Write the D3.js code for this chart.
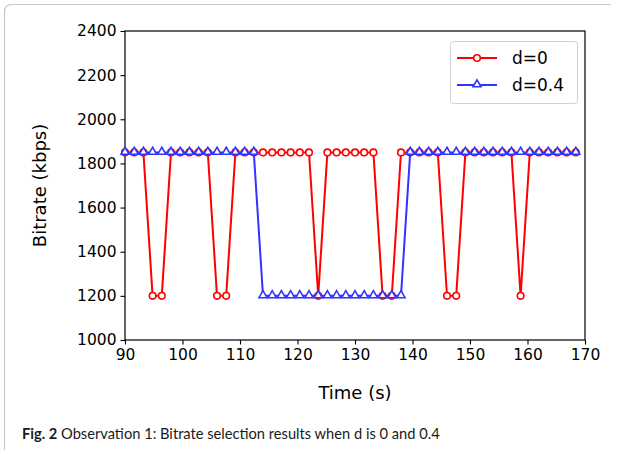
<!DOCTYPE html>
<html>
<head>
<meta charset="utf-8">
<script src="https://cdn.jsdelivr.net/npm/d3@7"></script>
<style>
  html, body { margin: 0; padding: 0; background: #fff; }
  svg { display: block; }
</style>
</head>
<body>
<svg id="chart" width="623" height="450"></svg>
<script>
// Segment start times (s) and selected bitrate (kbps) per segment
const times = [90.0, 91.6, 93.2, 94.8, 96.4, 98.0, 99.6, 101.2, 102.8, 104.4,
               106.0, 107.6, 109.2, 110.8, 112.4, 114.0, 115.6, 117.2, 118.8, 120.4,
               122.0, 123.6, 125.2, 126.8, 128.4, 130.0, 131.6, 133.2, 134.8, 136.4,
               138.0, 139.6, 141.2, 142.8, 144.4, 146.0, 147.6, 149.2, 150.8, 152.4,
               154.0, 155.6, 157.2, 158.8, 160.4, 162.0, 163.6, 165.2, 166.8, 168.4];

const bitrateD0 = [1850, 1850, 1850, 1200, 1200, 1850, 1850, 1850, 1850, 1850,
                   1200, 1200, 1850, 1850, 1850, 1850, 1850, 1850, 1850, 1850,
                   1850, 1200, 1850, 1850, 1850, 1850, 1850, 1850, 1200, 1200,
                   1850, 1850, 1850, 1850, 1850, 1200, 1200, 1850, 1850, 1850,
                   1850, 1850, 1850, 1200, 1850, 1850, 1850, 1850, 1850, 1850];

const bitrateD04 = [1850, 1850, 1850, 1850, 1850, 1850, 1850, 1850, 1850, 1850,
                    1850, 1850, 1850, 1850, 1850, 1200, 1200, 1200, 1200, 1200,
                    1200, 1200, 1200, 1200, 1200, 1200, 1200, 1200, 1200, 1200,
                    1200, 1850, 1850, 1850, 1850, 1850, 1850, 1850, 1850, 1850,
                    1850, 1850, 1850, 1850, 1850, 1850, 1850, 1850, 1850, 1850];

const seriesNames = ["d=0", "d=0.4"];
const xTicks = [90, 100, 110, 120, 130, 140, 150, 160, 170];
const yTicks = [1000, 1200, 1400, 1600, 1800, 2000, 2200, 2400];

const svg = d3.select("#chart");
const fontAxis = "'DejaVu Sans', sans-serif";

// Caption frame (top and left rule, rounded corner)
svg.append("path")
  .attr("d", "M4.5,450 L4.5,12 Q4.5,4.5 12,4.5 L611,4.5")
  .attr("fill", "none")
  .attr("stroke", "#c9c9c9")
  .attr("stroke-width", 1.2);

const plot = { left: 125, right: 585, top: 31, bottom: 340 };

const x = d3.scaleLinear().domain([90, 170]).range([plot.left, plot.right]);
const y = d3.scaleLinear().domain([1000, 2400]).range([plot.bottom, plot.top]);

// Axes
const xAxis = svg.append("g")
  .attr("transform", `translate(0,${plot.bottom})`)
  .call(d3.axisBottom(x).tickValues(xTicks).tickSize(4.5).tickPadding(4).tickFormat(d3.format("d")));
const yAxis = svg.append("g")
  .attr("transform", `translate(${plot.left},0)`)
  .call(d3.axisLeft(y).tickValues(yTicks).tickSize(4.5).tickPadding(4).tickFormat(d3.format("d")));

[xAxis, yAxis].forEach(g => {
  g.attr("font-family", fontAxis);
  g.select(".domain").remove();
  g.selectAll("line").attr("stroke", "#000").attr("stroke-width", 1.1);
  g.selectAll("text").attr("font-family", fontAxis).attr("font-size", 15.5).attr("fill", "#000");
});

// Plot frame
svg.append("rect")
  .attr("x", plot.left).attr("y", plot.top)
  .attr("width", plot.right - plot.left).attr("height", plot.bottom - plot.top)
  .attr("fill", "none").attr("stroke", "#000").attr("stroke-width", 1.2);

// Axis titles
svg.append("text")
  .attr("x", (plot.left + plot.right) / 2).attr("y", 399)
  .attr("text-anchor", "middle")
  .attr("font-family", fontAxis).attr("font-size", 18)
  .text("Time (s)");

svg.append("text")
  .attr("transform", `translate(46,${(plot.top + plot.bottom) / 2}) rotate(-90)`)
  .attr("text-anchor", "middle")
  .attr("font-family", fontAxis).attr("font-size", 18)
  .text("Bitrate (kbps)");

// Series
const colorRed = "#ff0000";
const colorBlue = "#3333ff";

const line = d3.line().x(d => x(d[0])).y(d => y(d[1]));
const dataD0 = times.map((t, i) => [t, bitrateD0[i]]);
const dataD04 = times.map((t, i) => [t, bitrateD04[i]]);

const triSym = d3.symbol().type(d3.symbolTriangle).size(28);

function drawSeries(data, color, marker) {
  const g = svg.append("g");
  g.append("path")
    .attr("d", line(data))
    .attr("fill", "none")
    .attr("stroke", color)
    .attr("stroke-width", 2)
    .attr("stroke-linejoin", "round");
  if (marker === "circle") {
    g.selectAll("circle").data(data).join("circle")
      .attr("cx", d => x(d[0])).attr("cy", d => y(d[1]))
      .attr("r", 3.3)
      .attr("fill", "#fff").attr("stroke", color).attr("stroke-width", 1.6);
  } else {
    g.selectAll("path.m").data(data).join("path")
      .attr("class", "m")
      .attr("transform", d => `translate(${x(d[0])},${y(d[1]) - 0.5})`)
      .attr("d", triSym)
      .attr("fill", "#fff").attr("stroke", color).attr("stroke-width", 1.6);
  }
}

drawSeries(dataD0, colorRed, "circle");
drawSeries(dataD04, colorBlue, "triangle");

// Legend
const lg = svg.append("g");
lg.append("rect")
  .attr("x", 450.5).attr("y", 41.5).attr("width", 127).attr("height", 62)
  .attr("rx", 3)
  .attr("fill", "#fff").attr("fill-opacity", 0.8)
  .attr("stroke", "#d0d0d0").attr("stroke-width", 1);

const legendItems = [
  { name: seriesNames[0], color: colorRed, marker: "circle", cy: 58 },
  { name: seriesNames[1], color: colorBlue, marker: "triangle", cy: 85 }
];
legendItems.forEach(it => {
  lg.append("line")
    .attr("x1", 457).attr("x2", 497).attr("y1", it.cy).attr("y2", it.cy)
    .attr("stroke", it.color).attr("stroke-width", 2);
  if (it.marker === "circle") {
    lg.append("circle").attr("cx", 477).attr("cy", it.cy).attr("r", 3.3)
      .attr("fill", "#fff").attr("stroke", it.color).attr("stroke-width", 1.6);
  } else {
    lg.append("path").attr("transform", `translate(477,${it.cy - 0.5})`)
      .attr("d", triSym)
      .attr("fill", "#fff").attr("stroke", it.color).attr("stroke-width", 1.6);
  }
  lg.append("text")
    .attr("x", 512).attr("y", it.cy + 6)
    .attr("font-family", fontAxis).attr("font-size", 17)
    .text(it.name);
});

// Caption, sized to span its column width
const cap = svg.append("text")
  .attr("x", 22).attr("y", 439)
  .attr("font-family", "Lato, 'Open Sans', sans-serif")
  .attr("font-size", 17)
  .attr("fill", "#1a1a1a");
cap.append("tspan").attr("font-weight", "bold").text("Fig. 2");
cap.append("tspan").text(" Observation 1: Bitrate selection results when d is 0 and 0.4");
const capWidth = cap.node().getComputedTextLength();
cap.attr("font-size", 17 * 418 / capWidth);
</script>
</body>
</html>
